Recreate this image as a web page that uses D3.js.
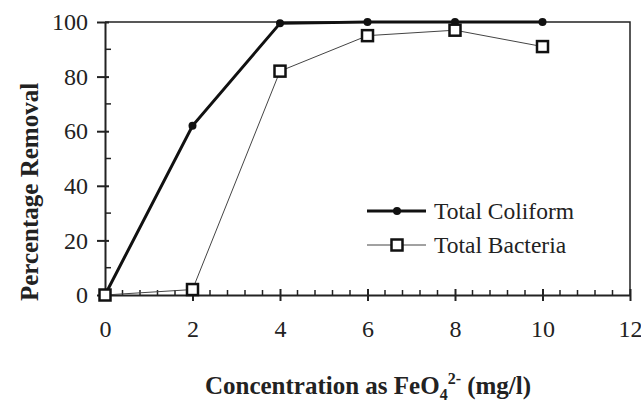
<!DOCTYPE html>
<html><head><meta charset="utf-8">
<script src="https://cdn.jsdelivr.net/npm/d3@7"></script>
<style>body{margin:0;background:#fff}svg{display:block}</style>
</head><body>
<script>
const concentration = [0, 2, 4, 6, 8, 10];
const totalColiform = [0, 62, 99.5, 100, 100, 100];
const totalBacteria = [0, 2, 82, 95, 97, 91];
const xTicks = [0, 2, 4, 6, 8, 10, 12];
const yTicks = [0, 20, 40, 60, 80, 100];
const seriesNames = ["Total Coliform", "Total Bacteria"];

const W = 641, H = 406;
const svg = d3.select("body").append("svg").attr("width", W).attr("height", H);
const font = "'Liberation Serif', 'Times New Roman', serif";
const x = d3.scaleLinear().domain([0, 12]).range([105, 630]);
const y = d3.scaleLinear().domain([0, 100]).range([295, 22]);

// frame
svg.append("path").attr("d", `M${x(0)},${y(100)}H${x(12)}V${y(0)}`)
  .attr("fill", "none").attr("stroke", "#222").attr("stroke-width", 1.5);

// x axis
const xAxis = svg.append("g").attr("transform", `translate(0,${y(0)})`)
  .call(d3.axisBottom(x).tickValues(xTicks).tickSize(0).tickPadding(0).tickFormat(d3.format("d")));
xAxis.select(".domain").attr("stroke", "#222").attr("stroke-width", 2);
xAxis.selectAll("text").attr("font-family", font).attr("font-size", 24).attr("fill", "#222").attr("dy", "1.75em");
xAxis.selectAll(".tick").append("line").attr("y1", -6).attr("y2", 6).attr("stroke", "#222").attr("stroke-width", 2);
const xMinor = d3.range(0, 12.001, 0.4).filter(v => Math.abs(v / 2 - Math.round(v / 2)) > 0.01);
svg.append("g").selectAll("line").data(xMinor).join("line")
  .attr("x1", d => x(d)).attr("x2", d => x(d)).attr("y1", y(0)).attr("y2", y(0) - 5)
  .attr("stroke", "#222").attr("stroke-width", 1.5);

// y axis
const yAxis = svg.append("g").attr("transform", `translate(${x(0)},0)`)
  .call(d3.axisLeft(y).tickValues(yTicks).tickSize(0).tickPadding(17).tickFormat(d3.format("d")));
yAxis.select(".domain").attr("stroke", "#222").attr("stroke-width", 2);
yAxis.selectAll("text").attr("font-family", font).attr("font-size", 24).attr("fill", "#222");
yAxis.selectAll(".tick").append("line").attr("x1", -8).attr("x2", 4).attr("stroke", "#222").attr("stroke-width", 2);
const yMinor = d3.range(10, 100, 20);
svg.append("g").selectAll("line").data(yMinor).join("line")
  .attr("x1", x(0)).attr("x2", x(0) + 6).attr("y1", d => y(d)).attr("y2", d => y(d))
  .attr("stroke", "#222").attr("stroke-width", 1.5);

// axis titles
svg.append("text").attr("transform", `translate(38,192) rotate(-90)`)
  .attr("text-anchor", "middle").attr("font-family", font).attr("font-size", 25).attr("font-weight", "bold")
  .attr("fill", "#222").text("Percentage Removal");
const xt = svg.append("text").attr("x", 368).attr("y", 394).attr("text-anchor", "middle")
  .attr("font-family", font).attr("font-size", 25).attr("font-weight", "bold").attr("fill", "#222");
xt.append("tspan").text("Concentration as FeO");
xt.append("tspan").attr("font-size", 16).attr("dy", 6).text("4");
xt.append("tspan").attr("font-size", 16).attr("dy", -16).text("2-");
xt.append("tspan").attr("dy", 10).text(" (mg/l)");

// series
const line = d3.line().x(d => x(d[0])).y(d => y(d[1]));
const bData = concentration.map((c, i) => [c, totalBacteria[i]]);
const cData = concentration.map((c, i) => [c, totalColiform[i]]);

svg.append("path").datum(bData).attr("d", line).attr("fill", "none").attr("stroke", "#444").attr("stroke-width", 1);
svg.append("path").datum(cData).attr("d", line).attr("fill", "none").attr("stroke", "#111").attr("stroke-width", 3);
svg.append("g").selectAll("circle").data(cData).join("circle")
  .attr("cx", d => x(d[0])).attr("cy", d => y(d[1])).attr("r", 4).attr("fill", "#111");
const sq = 11;
svg.append("g").selectAll("rect").data(bData).join("rect")
  .attr("x", d => x(d[0]) - sq / 2).attr("y", d => y(d[1]) - sq / 2).attr("width", sq).attr("height", sq)
  .attr("fill", "#fff").attr("stroke", "#111").attr("stroke-width", 2.5);

// legend
const lg = svg.append("g");
const ly = [211, 245];
lg.append("line").attr("x1", 367).attr("x2", 426).attr("y1", ly[0]).attr("y2", ly[0]).attr("stroke", "#111").attr("stroke-width", 3);
lg.append("circle").attr("cx", 397).attr("cy", ly[0]).attr("r", 4).attr("fill", "#111");
lg.append("line").attr("x1", 367).attr("x2", 426).attr("y1", ly[1]).attr("y2", ly[1]).attr("stroke", "#444").attr("stroke-width", 1);
lg.append("rect").attr("x", 397 - sq / 2).attr("y", ly[1] - sq / 2).attr("width", sq).attr("height", sq)
  .attr("fill", "#fff").attr("stroke", "#111").attr("stroke-width", 2.5);
lg.selectAll("text").data(seriesNames).join("text")
  .attr("x", 434).attr("y", (d, i) => ly[i] + 8).attr("font-family", font).attr("font-size", 23.5)
  .attr("fill", "#222").text(d => d);
</script>
</body></html>
